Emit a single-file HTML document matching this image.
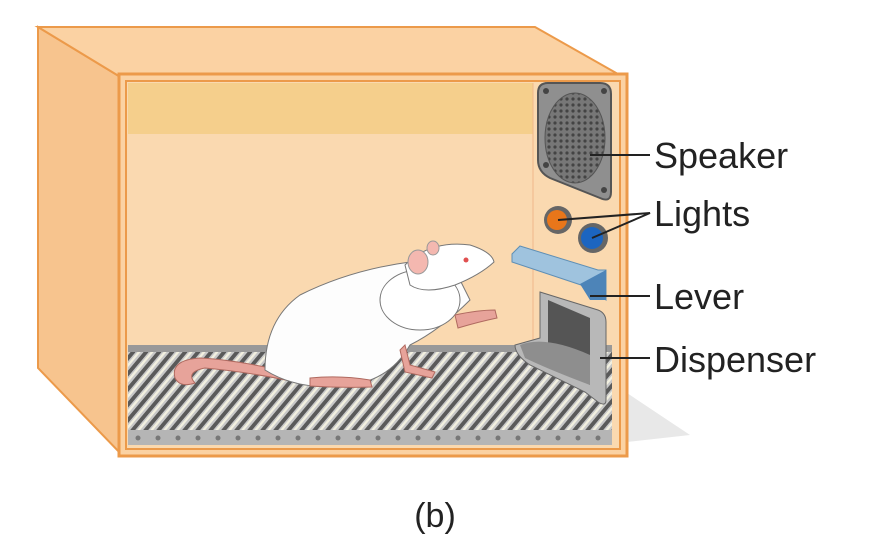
<!DOCTYPE html>
<html><head><meta charset="utf-8"><style>
html,body{margin:0;padding:0;background:#fff;}
svg{display:block}
text{font-family:"Liberation Sans",sans-serif;fill:#222}
</style></head><body>
<svg width="871" height="553" viewBox="0 0 871 553" xmlns="http://www.w3.org/2000/svg">
<defs>
<pattern id="grill" width="6" height="6" patternUnits="userSpaceOnUse"><rect width="6" height="6" fill="#777"/><circle cx="3" cy="3" r="1.6" fill="#444"/></pattern>
<pattern id="bars" width="13" height="20" patternUnits="userSpaceOnUse" patternTransform="skewX(-40)">
<rect width="13" height="20" fill="#5a5a5a"/><rect x="2" width="8" height="20" fill="#c8c8c8"/><rect x="4" width="3" height="20" fill="#f2f0e0"/></pattern>
</defs>
<polygon points="600,375 690,435 600,445" fill="#e8e8e8"/>
<polygon points="38,27 122,78 122,455 38,368" fill="#f7c48e" stroke="#ec9a4a" stroke-width="2"/>
<polygon points="38,27 535,27 625,78 122,78" fill="#fbd2a3" stroke="#ec9a4a" stroke-width="2"/>
<rect x="119" y="74" width="508" height="382" fill="#fbd2a3" stroke="#ec9a4a" stroke-width="3"/>
<rect x="126" y="81" width="494" height="368" fill="#fad9b0" stroke="#ec9a4a" stroke-width="2"/>
<rect x="128" y="83" width="405" height="51" fill="#f5cf8c"/>
<line x1="533" y1="83" x2="533" y2="345" stroke="#f0b88a" stroke-width="1"/>
<rect x="128" y="345" width="484" height="10" fill="#999"/>
<rect x="128" y="352" width="484" height="80" fill="url(#bars)"/>
<rect x="128" y="430" width="484" height="15" fill="#b5b5b5"/>
<g fill="#777">
<circle cx="138" cy="438" r="2.5"/><circle cx="158" cy="438" r="2.5"/><circle cx="178" cy="438" r="2.5"/><circle cx="198" cy="438" r="2.5"/><circle cx="218" cy="438" r="2.5"/><circle cx="238" cy="438" r="2.5"/><circle cx="258" cy="438" r="2.5"/><circle cx="278" cy="438" r="2.5"/><circle cx="298" cy="438" r="2.5"/><circle cx="318" cy="438" r="2.5"/><circle cx="338" cy="438" r="2.5"/><circle cx="358" cy="438" r="2.5"/><circle cx="378" cy="438" r="2.5"/><circle cx="398" cy="438" r="2.5"/><circle cx="418" cy="438" r="2.5"/><circle cx="438" cy="438" r="2.5"/><circle cx="458" cy="438" r="2.5"/><circle cx="478" cy="438" r="2.5"/><circle cx="498" cy="438" r="2.5"/><circle cx="518" cy="438" r="2.5"/><circle cx="538" cy="438" r="2.5"/><circle cx="558" cy="438" r="2.5"/><circle cx="578" cy="438" r="2.5"/><circle cx="598" cy="438" r="2.5"/>
</g>
<!-- speaker -->
<path d="M548,83 L600,83 Q611,83 611,94 L611,192 Q611,203 600,198 L550,178 Q538,172 538,160 L538,93 Q538,83 548,83Z" fill="#8f8f8f" stroke="#555" stroke-width="2"/>
<ellipse cx="575" cy="138" rx="30" ry="45" fill="url(#grill)" stroke="#555"/>
<circle cx="546" cy="91" r="3" fill="#444"/><circle cx="604" cy="91" r="3" fill="#444"/><circle cx="604" cy="190" r="3" fill="#444"/><circle cx="546" cy="165" r="3" fill="#444"/>
<circle cx="558" cy="220" r="14" fill="#666"/><circle cx="557" cy="220" r="10" fill="#e8761a"/>
<circle cx="593" cy="238" r="15" fill="#666"/><circle cx="592" cy="238" r="11" fill="#1c65c0"/>
<polygon points="520,246 598,270 606,270 606,300 590,288 512,262 512,254" fill="#9fc3de" stroke="#5f8fb5"/>
<polygon points="580,284 606,270 606,300 590,300" fill="#4d84b8"/>
<path d="M540,292 L598,310 Q606,313 606,322 L606,400 Q606,407 598,402 L585,392 L530,365 Q515,355 515,345 L540,338Z" fill="#b8b8b8" stroke="#666"/>
<polygon points="548,300 590,318 590,385 548,360" fill="#555"/>
<path d="M520,345 Q545,335 590,355 L590,385 Q550,370 525,358Z" fill="#8e8e8e"/>
<path d="M300,375 Q240,360 200,358 Q170,360 175,378 Q180,388 195,383 Q185,372 205,368 Q250,372 300,383Z" fill="#e7a39a" stroke="#b06a60"/>
<path d="M265,370 Q265,320 300,295 Q350,270 410,262 Q440,258 455,270 L470,300 Q440,330 410,345 Q390,380 350,385 Q300,392 265,370Z" fill="#fdfdfd" stroke="#777"/>
<ellipse cx="420" cy="300" rx="40" ry="30" fill="#fff" stroke="#777"/>
<path d="M405,265 Q430,240 470,245 Q492,252 494,262 Q480,275 455,285 Q425,295 410,285Z" fill="#fff" stroke="#777"/>
<ellipse cx="418" cy="262" rx="10" ry="12" fill="#f4b8b0" stroke="#999"/>
<ellipse cx="433" cy="248" rx="6" ry="7" fill="#f4b8b0" stroke="#999"/>
<circle cx="466" cy="260" r="2.5" fill="#e05050"/>
<path d="M455,315 Q478,310 495,310 L497,318 Q478,322 458,328Z" fill="#e7a39a" stroke="#b06a60"/>
<path d="M310,378 Q340,375 370,380 L372,387 Q340,388 310,386Z" fill="#e7a39a" stroke="#b06a60"/>
<path d="M405,345 L410,365 L435,372 L432,378 L405,372 L400,350Z" fill="#e7a39a" stroke="#b06a60"/>
<g stroke="#222" stroke-width="2" fill="none">
<line x1="590" y1="155" x2="650" y2="155"/>
<polyline points="558,220 650,213 592,238"/>
<line x1="590" y1="296" x2="650" y2="296"/>
<line x1="600" y1="358" x2="650" y2="358"/>
</g>
<text x="654" y="168" font-size="36">Speaker</text>
<text x="654" y="226" font-size="36">Lights</text>
<text x="654" y="309" font-size="36">Lever</text>
<text x="654" y="372" font-size="36">Dispenser</text>
<text x="435" y="527" font-size="34" text-anchor="middle">(b)</text>
</svg>
</body></html>
